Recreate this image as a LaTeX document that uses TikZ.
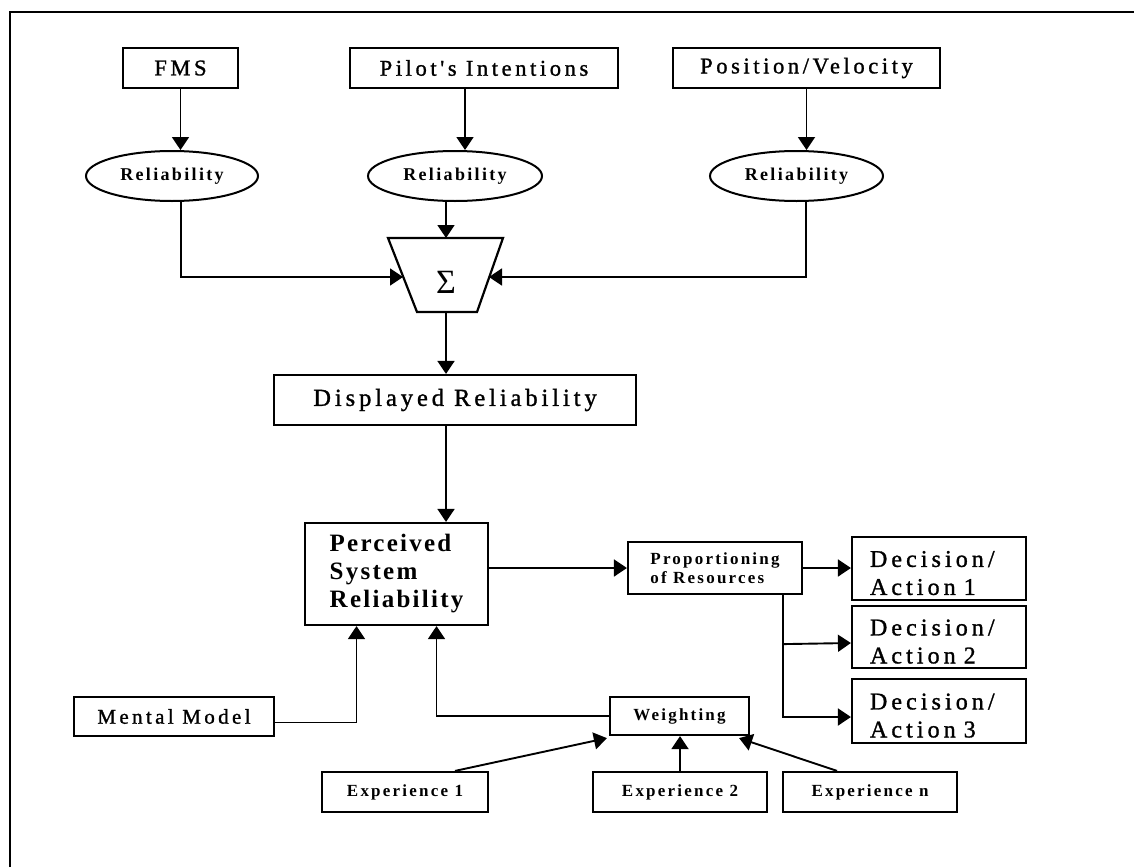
\documentclass[tikz,border=0pt]{standalone}
\usepackage{fontspec}
\setmainfont{Liberation Serif}
\newfontfamily\lsA[LetterSpace=16,FakeBold=1.2]{Liberation Serif}
\newfontfamily\lsB[LetterSpace=17,FakeBold=1.2]{Liberation Serif}
\newfontfamily\lsC[LetterSpace=13]{Liberation Serif}
\newfontfamily\lsD[LetterSpace=9]{Liberation Serif}
\usetikzlibrary{arrows.meta,shapes.geometric}
\newcommand\ftop{\lsA\fontsize{22.5}{26}\selectfont}
\newcommand\fdisp{\lsA\fontsize{24.5}{28}\selectfont}
\newcommand\fperc{\lsD\bfseries\fontsize{25}{28}\selectfont}
\newcommand\fdec{\lsB\fontsize{24}{28}\selectfont}
\newcommand\frel{\lsC\bfseries\fontsize{18}{20}\selectfont}
\newcommand\fsmall{\lsC\bfseries\fontsize{17}{19}\selectfont}
\newcommand\fmental{\lsA\fontsize{21}{24}\selectfont}
\begin{document}
\begin{tikzpicture}[x=1pt,y=-1pt,
  box/.style={draw,line width=2.2pt,inner sep=0pt,align=center},
  ell/.style={draw,ellipse,line width=2pt,inner sep=0pt},
  arr/.style={line width=1.9pt,-{Triangle[length=13pt,width=17pt]}}]
\useasboundingbox (0,0) rectangle (1134,867);
% frame
\draw[line width=1.8pt] (10,867) -- (10,12) -- (1134,12);
% top sources
\node[box,minimum width=115pt,minimum height=40pt,font=\ftop] (fms) at (180.5,68) {FMS};
\node[box,minimum width=268pt,minimum height=40pt,font=\ftop] (pilot) at (484,68) {Pilot's Intentions};
\node[box,minimum width=267pt,minimum height=40pt,font=\ftop] (pos) at (806.5,68) {Position/Velocity};
% reliability ellipses
\node[ell,minimum width=172pt,minimum height=50pt,font=\frel] (rel1) at (172,176) {Reliability};
\node[ell,minimum width=174pt,minimum height=50pt,font=\frel] (rel2) at (455,176) {Reliability};
\node[ell,minimum width=173pt,minimum height=50pt,font=\frel] (rel3) at (796.5,176) {Reliability};
% summation
\draw[line width=2.2pt] (388,238) -- (503,238) -- (477,312) -- (417,312) -- cycle;
\node[inner sep=0pt,font=\fontsize{34}{34}\selectfont] (sig) at (446,282) {Σ};
\coordinate (sigT) at (446,238);
\coordinate (sigB) at (446,312);
\coordinate (sigL) at (403,277);
\coordinate (sigR) at (489,277);
% displayed / perceived
\node[box,minimum width=362pt,minimum height=50pt,font=\fdisp] (disp) at (455,400) {Displayed Reliability};
\node[box,minimum width=183pt,minimum height=102pt,align=left,font=\fperc] (perc) at (396.5,574) {Perceived\\System\\Reliability};
\node[box,minimum width=200pt,minimum height=39pt,font=\fmental] (mental) at (174,716.5) {Mental Model};
\node[box,minimum width=139pt,minimum height=38pt,font=\fsmall] (weight) at (679.5,716) {Weighting};
\node[box,minimum width=166pt,minimum height=40pt,font=\fsmall] (exp1) at (405,792) {Experience 1};
\node[box,minimum width=174pt,minimum height=40pt,font=\fsmall] (exp2) at (680,792) {Experience 2};
\node[box,minimum width=174pt,minimum height=40pt,font=\fsmall] (expn) at (870,792) {Experience n};
\node[box,minimum width=174pt,minimum height=52pt,align=left,font=\fsmall] (prop) at (715,568) {Proportioning\\of Resources};
\node[box,minimum width=174pt,minimum height=63pt,align=left,text width=138pt,font=\fdec] (dec1) at (939,568.5) {\rule{0pt}{25pt}Decision/\\Action 1};
\node[box,minimum width=174pt,minimum height=62pt,align=left,text width=138pt,font=\fdec] (dec2) at (939,637) {\rule{0pt}{25pt}Decision/\\Action 2};
\node[box,minimum width=174pt,minimum height=64pt,align=left,text width=138pt,font=\fdec] (dec3) at (939,711) {\rule{0pt}{25pt}Decision/\\Action 3};
% connectors
\draw[arr] (fms.south) -- (fms.south |- rel1.north);
\draw[arr] ([xshift=-19pt]pilot.south) -- ([xshift=10pt]rel2.north);
\draw[arr] (pos.south) -- (pos.south |- rel3.north);
\draw[arr] ([xshift=9pt]rel1.south) |- (sigL);
\draw[arr] ([xshift=-9pt]rel2.south) -- (sigT);
\draw[arr] ([xshift=9.5pt]rel3.south) |- (sigR);
\draw[arr] (sigB) -- (sigB |- disp.north);
\draw[arr] ([xshift=-9pt]disp.south) -- ([xshift=49.5pt]perc.north);
\draw[arr] ([yshift=-6pt]mental.east) -| ([xshift=-40pt]perc.south);
\draw[arr] (weight.west) -| ([xshift=40pt]perc.south);
\draw[arr] (perc.east |- prop.west) -- (prop.west);
\draw[arr] (prop.east) -- (prop.east -| dec1.west);
\draw[arr] ([xshift=68pt]prop.south) |- ([yshift=-6pt]dec3.west);
\draw[arr] ([xshift=68pt,yshift=-49pt]prop.south) -- ([yshift=-6pt]dec2.west);
\draw[arr] ([xshift=50pt]exp1.north) -- ([xshift=-2pt,yshift=-2pt]weight.south west);
\draw[arr] (exp2.north) -- (exp2.north |- weight.south);
\draw[arr] ([xshift=-33pt]expn.north) -- ([xshift=-11pt,yshift=-2pt]weight.south east);
\end{tikzpicture}
\end{document}
